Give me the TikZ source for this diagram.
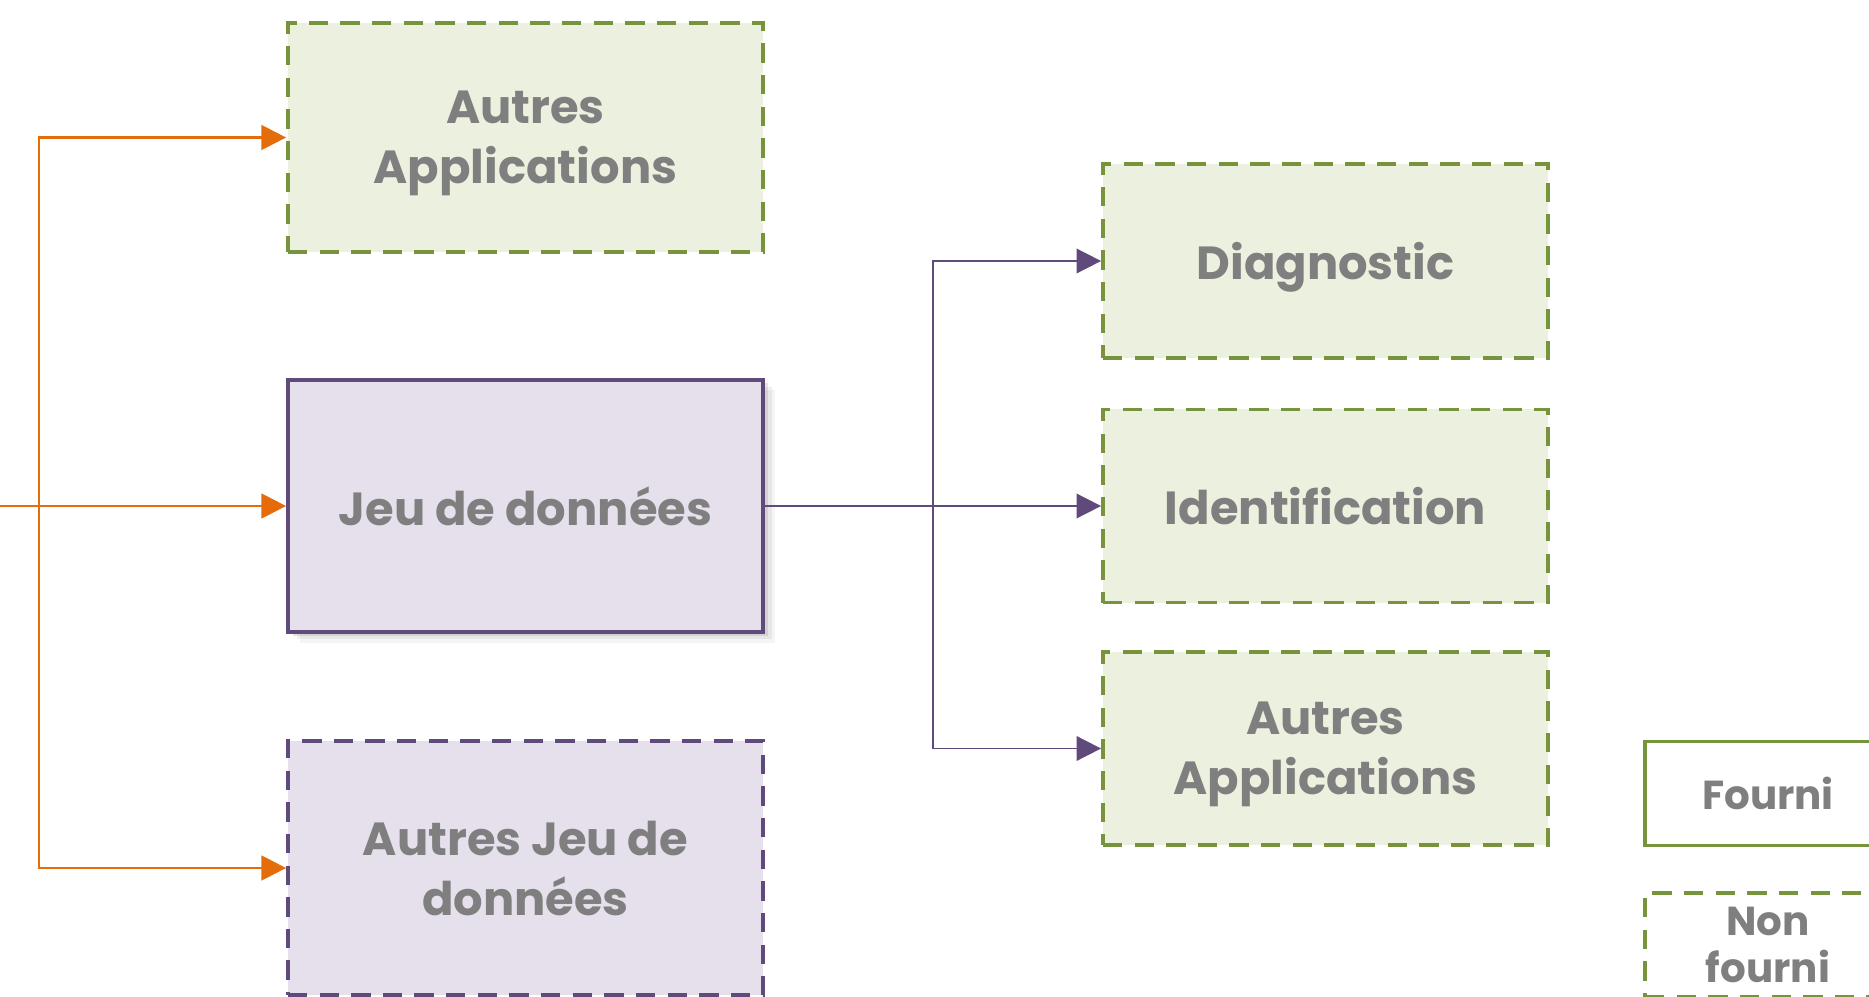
\documentclass[tikz,border=0pt]{standalone}
\usepackage{fontspec}
\setmainfont{Poppins}
\usepackage{tikz}
\definecolor{vertfond}{RGB}{235,241,222}
\definecolor{vertbord}{RGB}{119,147,60}
\definecolor{violetfond}{RGB}{230,224,236}
\definecolor{violetbord}{RGB}{96,74,123}
\definecolor{orangefleche}{RGB}{228,108,10}
\definecolor{gristexte}{RGB}{127,127,127}
\usetikzlibrary{shapes,arrows.meta,positioning,shadows}
\tikzset{boite/.style={rectangle, line width=1pt, align=center, text=gristexte, text depth=0pt,
 font=\fontsize{13.2}{17}\selectfont\bfseries}}
\tikzset{nonfourni/.style={boite, draw=vertbord, fill=vertfond, dash pattern=on 5.5pt off 3.5pt}}
\tikzset{donnees/.style={boite, draw=violetbord, fill=violetfond}}
\tikzset{autresdonnees/.style={donnees, dash pattern=on 5.5pt off 3.5pt}}
\tikzset{ombre/.style={drop shadow={shadow xshift=3.5pt, shadow yshift=-3pt, opacity=0.08},
 drop shadow={shadow xshift=2.5pt, shadow yshift=-2pt, opacity=0.12},
 drop shadow={shadow xshift=1.5pt, shadow yshift=-1pt, opacity=0.2}}}
\tikzset{legende/.style={boite, draw=vertbord, fill=white, minimum width=2.46cm, minimum height=1.04cm,
 font=\fontsize{11.5}{13.5}\selectfont\bfseries}}
\tikzset{lienorange/.style={draw=orangefleche, line width=0.7pt, -{Triangle[length=7pt,width=7pt]}}}
\tikzset{lienviolet/.style={draw=violetbord, line width=0.5pt, -{Triangle[length=7pt,width=7pt]}}}

\begin{document}
\begin{tikzpicture}[x=0.01cm, y=-0.01cm]
        \useasboundingbox (0,0) rectangle (1869,997);
        % colonne de gauche
        \node[nonfourni, minimum width=4.75cm, minimum height=2.29cm] (autresapp) at (525.5,137.5) {Autres\\Applications};
        \node[donnees, ombre, minimum width=4.75cm, minimum height=2.52cm] (jeu) at (525.5,506) {Jeu de données};
        \node[autresdonnees, minimum width=4.75cm, minimum height=2.54cm] (autresjeu) at (525.5,868) {Autres Jeu de\\données};
        % colonne de droite
        \node[nonfourni, minimum width=4.45cm, minimum height=1.94cm] (diag) at (1325.5,261) {Diagnostic};
        \node[nonfourni, minimum width=4.45cm, minimum height=1.93cm] (ident) at (1325.5,506) {Identification};
        \node[nonfourni, minimum width=4.45cm, minimum height=1.93cm] (autresappb) at (1325.5,748.5) {Autres\\Applications};
        % legende
        \node[legende] (fourni) at (1768,793.5) {Fourni};
        \node[legende, dash pattern=on 5.5pt off 3.5pt] (nonf) at (1768,945) {Non\\fourni};

        \coordinate (entree) at (0,506);
        \coordinate (partage) at (39,506);
        \coordinate (fourche) at (933,506);

        \path[lienorange] (entree) -- (jeu.west);
        \path[lienorange] (partage) |- (autresapp.west);
        \path[lienorange] (partage) |- (autresjeu.west);

        \path[lienviolet] (jeu.east) -- (ident.west);
        \path[lienviolet] (fourche) |- (diag.west);
        \path[lienviolet] (fourche) |- (autresappb.west);
      \end{tikzpicture}
\end{document}
